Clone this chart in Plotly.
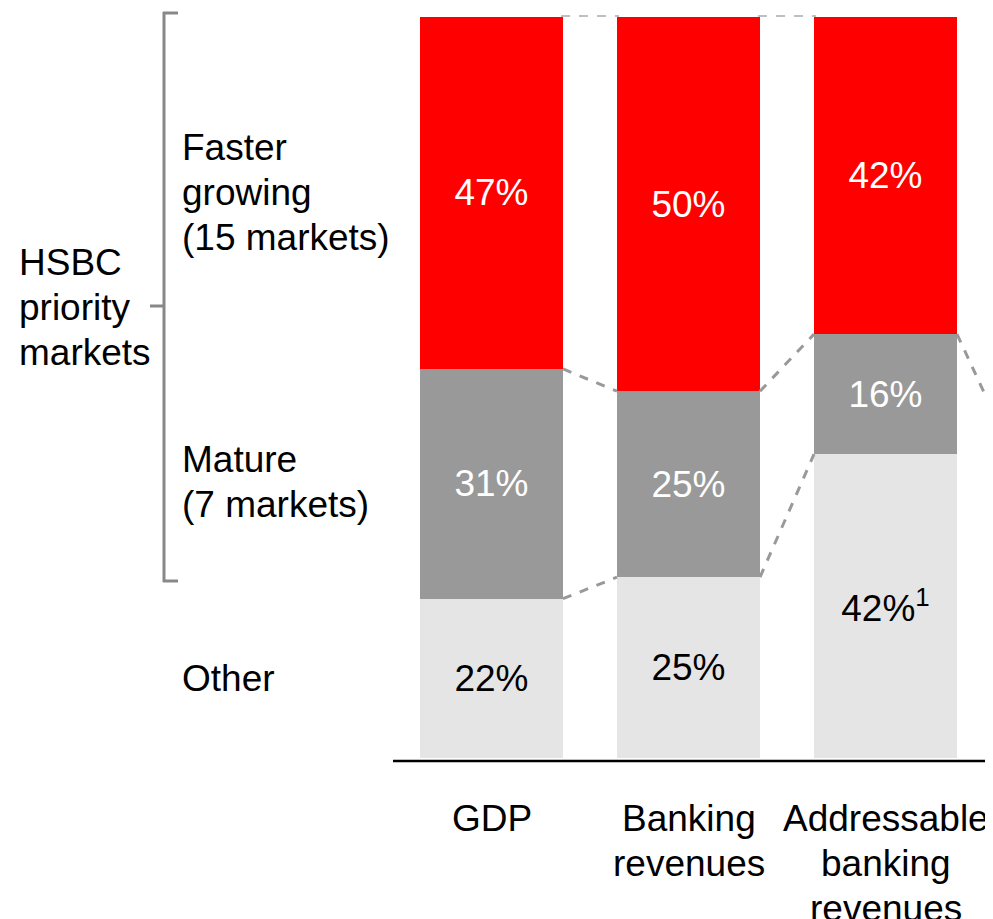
import plotly.graph_objects as go

# ---- data ----
categories = ["GDP", "Banking<br>revenues", "Addressable<br>banking<br>revenues"]
other_vals = [21.5, 24.4, 41.0]
mature_vals = [31.0, 25.1, 16.2]
faster_vals = [47.5, 50.5, 42.8]
other_text = ["22%", "25%", "42%<sup>1</sup>"]
mature_text = ["31%", "25%", "16%"]
faster_text = ["47%", "50%", "42%"]
segment_labels = ["Faster<br>growing<br>(15 markets)", "Mature<br>(7 markets)", "Other"]
group_label = "HSBC<br>priority<br>markets"

W, H = 993, 919
FONT = "Liberation Sans, Arial, sans-serif"
FS = 37
OFF = 8  # page body margin

# screen pixel -> figure mapping (plot area == whole figure)
X0_PX, X_STEP = 491.5 - OFF, 197.0
Y0_PX, Y_UNIT = 758.0 - OFF, 7.41
BW = 143 / 197.0
LINE = 45


def px(x):
    return (x - OFF) / W


def py(y):
    return 1 - (y - OFF) / H


xs = list(range(len(categories)))

fig = go.Figure()
fig.add_bar(x=xs, y=other_vals, width=BW, marker=dict(color="#e5e5e5", line=dict(width=0)),
            text=other_text, textposition="inside", insidetextanchor="middle", textangle=0,
            textfont=dict(color="black", size=FS, family=FONT), hoverinfo="skip")
fig.add_bar(x=xs, y=mature_vals, width=BW, marker=dict(color="#999999", line=dict(width=0)),
            text=mature_text, textposition="inside", insidetextanchor="middle", textangle=0,
            textfont=dict(color="white", size=FS, family=FONT), hoverinfo="skip")
fig.add_bar(x=xs, y=faster_vals, width=BW, marker=dict(color="#ff0000", line=dict(width=0)),
            text=faster_text, textposition="inside", insidetextanchor="middle", textangle=0,
            textfont=dict(color="white", size=FS, family=FONT), hoverinfo="skip")

shapes = []
for i in range(len(xs) - 1):
    lo_a = other_vals[i]; hi_a = other_vals[i] + mature_vals[i]
    lo_b = other_vals[i + 1]; hi_b = other_vals[i + 1] + mature_vals[i + 1]
    for ya, yb in [(lo_a, lo_b), (hi_a, hi_b)]:
        shapes.append(dict(type="line", xref="x", yref="y", x0=i + BW / 2, y0=ya,
                           x1=i + 1 - BW / 2, y1=yb,
                           line=dict(color="#999999", width=3, dash="dash")))
    shapes.append(dict(type="line", xref="x", yref="y", x0=i + BW / 2 - 0.01, y0=100.15,
                       x1=i + 1 - BW / 2 + 0.01, y1=100.15,
                       line=dict(color="#aaaaaa", width=1.5, dash="dash")))
last = len(xs) - 1
shapes.append(dict(type="line", xref="x", yref="y", x0=last + BW / 2,
                   y0=other_vals[last] + mature_vals[last], x1=last + 1 - BW / 2, y1=41.5,
                   line=dict(color="#999999", width=3, dash="dash")))

shapes.append(dict(type="line", xref="paper", yref="paper", x0=px(393), x1=px(985),
                   y0=py(761), y1=py(761), line=dict(color="black", width=2.5)))
bc = "#888888"
shapes.append(dict(type="line", xref="paper", yref="paper", x0=px(164), x1=px(164),
                   y0=py(12), y1=py(582), line=dict(color=bc, width=3)))
shapes.append(dict(type="line", xref="paper", yref="paper", x0=px(163), x1=px(178),
                   y0=py(13), y1=py(13), line=dict(color=bc, width=3)))
shapes.append(dict(type="line", xref="paper", yref="paper", x0=px(163), x1=px(178),
                   y0=py(581), y1=py(581), line=dict(color=bc, width=3)))
shapes.append(dict(type="line", xref="paper", yref="paper", x0=px(150), x1=px(164),
                   y0=py(306), y1=py(306), line=dict(color=bc, width=3)))

annotations = []
tf = dict(family=FONT, size=FS, color="black")


def add_lines(label, x, y_first, xref="paper", xanchor="left"):
    for k, line in enumerate(label.split("<br>")):
        annotations.append(dict(text=line, xref=xref, yref="paper",
                                x=px(x) if xref == "paper" else x,
                                y=py(y_first + k * LINE), xanchor=xanchor, yanchor="middle",
                                showarrow=False, font=tf))


add_lines(group_label, 17, 262)
for lab, yy in zip(segment_labels, [147, 460, 678]):
    add_lines(lab, 180, yy)
for i, c in enumerate(categories):
    add_lines(c, i, 818, xref="x", xanchor="center")

fig.update_layout(
    width=W, height=H, barmode="stack", showlegend=False,
    margin=dict(l=0, r=0, t=0, b=0),
    paper_bgcolor="white", plot_bgcolor="white",
    xaxis=dict(range=[-X0_PX / X_STEP, (W - X0_PX) / X_STEP], visible=False, fixedrange=True),
    yaxis=dict(range=[-(H - Y0_PX) / Y_UNIT, Y0_PX / Y_UNIT], visible=False, fixedrange=True),
    shapes=shapes, annotations=annotations,
    uniformtext=dict(minsize=FS, mode="show"),
    font=dict(family=FONT),
)

fig.write_html("out.html")
